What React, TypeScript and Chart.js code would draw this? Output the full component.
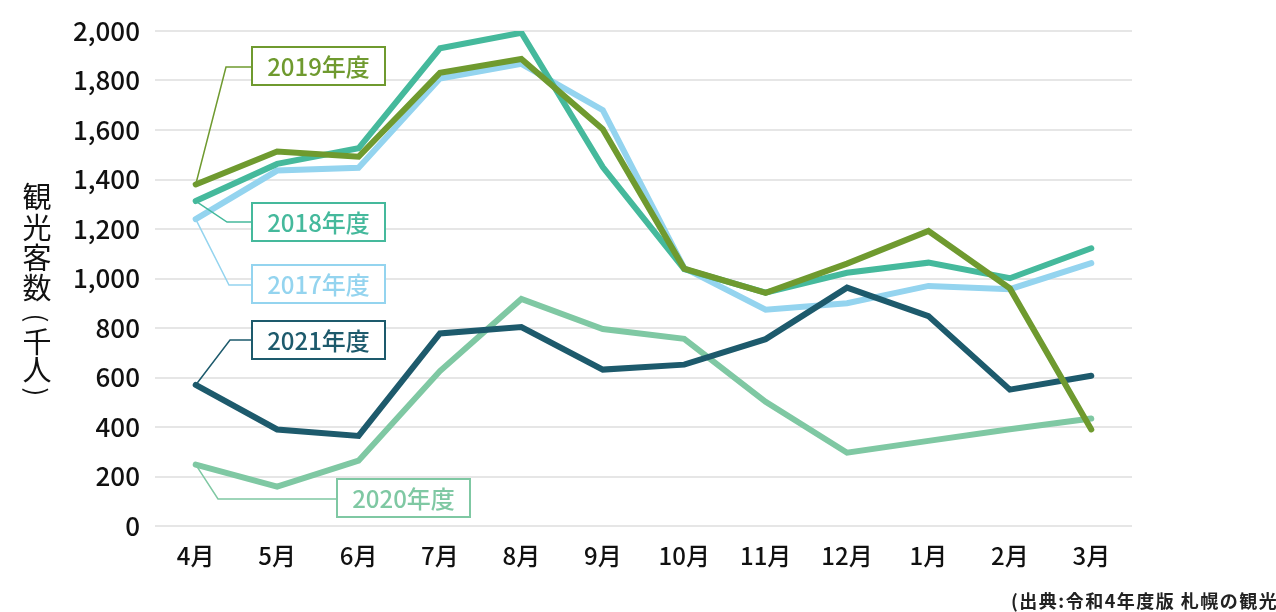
import React, { useEffect, useRef } from "react";
import { Chart, registerables } from "chart.js";

Chart.register(...registerables);

const months = ["4月", "5月", "6月", "7月", "8月", "9月", "10月", "11月", "12月", "1月", "2月", "3月"];
const fy2017 = [1240, 1436, 1447, 1808, 1867, 1680, 1042, 874, 900, 970, 957, 1062];
const fy2018 = [1313, 1463, 1526, 1930, 1993, 1450, 1038, 943, 1023, 1064, 1001, 1122];
const fy2019 = [1380, 1513, 1492, 1831, 1887, 1603, 1040, 942, 1060, 1192, 960, 390];
const fy2020 = [248, 159, 264, 626, 917, 796, 756, 502, 296, 344, 391, 434];
const fy2021 = [570, 390, 364, 778, 804, 632, 652, 755, 963, 848, 551, 607];
const seriesLabels = ["2019年度", "2021年度", "2020年度", "2018年度", "2017年度"];
const seriesColors = ["#6f9a2f", "#1d5a6c", "#7fc8a3", "#45b99c", "#94d4ef"];
const yTitleChars = ["観", "光", "客", "数", "(", "千", "人", ")"];
const sourceText = "(出典:令和4年度版 札幌の観光)";

// Callout boxes (dataset index -> box position in px, elbow position in px)
const callouts = [
  { ds: 0, boxX: 252, boxY: 47, elbowX: 226, elbowY: 67 },
  { ds: 3, boxX: 252, boxY: 203, elbowX: 227, elbowY: 222 },
  { ds: 4, boxX: 252, boxY: 265, elbowX: 229, elbowY: 285 },
  { ds: 1, boxX: 252, boxY: 321, elbowX: 230, elbowY: 340 },
  { ds: 2, boxX: 337, boxY: 479, elbowX: 218, elbowY: 499 },
];

const FONT = '"Noto Sans CJK JP", "Noto Sans", sans-serif';

const calloutPlugin = {
  id: "callouts",
  afterDatasetsDraw(chart: any) {
    const ctx = chart.ctx;
    ctx.save();
    callouts.forEach((c) => {
      const meta = chart.getDatasetMeta(c.ds);
      const pt = meta.data[0];
      const color = seriesColors[c.ds];
      const w = 133;
      const h = 38;
      ctx.strokeStyle = color;
      ctx.lineWidth = 1.5;
      ctx.beginPath();
      ctx.moveTo(pt.x, pt.y);
      ctx.lineTo(c.elbowX, c.elbowY);
      ctx.lineTo(c.boxX, c.elbowY);
      ctx.stroke();
      ctx.fillStyle = "#ffffff";
      ctx.fillRect(c.boxX, c.boxY, w, h);
      ctx.lineWidth = 2;
      ctx.strokeRect(c.boxX, c.boxY, w, h);
      ctx.fillStyle = color;
      ctx.font = `500 24px ${FONT}`;
      ctx.textAlign = "center";
      ctx.textBaseline = "middle";
      ctx.fillText(seriesLabels[c.ds], c.boxX + w / 2, c.boxY + h / 2 + 1);
    });
    ctx.restore();
  },
};

const textPlugin = {
  id: "extraText",
  afterDraw(chart: any) {
    const ctx = chart.ctx;
    ctx.save();
    ctx.fillStyle = "#111111";
    ctx.textAlign = "center";
    ctx.textBaseline = "middle";
    const ys = [197, 228, 258, 288, 318, 342, 370, 392];
    yTitleChars.forEach((ch, i) => {
      if (ch === "(" || ch === ")") {
        ctx.save();
        ctx.font = `400 26px ${FONT}`;
        ctx.translate(37, ys[i]);
        ctx.rotate(Math.PI / 2);
        ctx.fillText(ch, 0, 0);
        ctx.restore();
      } else {
        ctx.font = `400 29px ${FONT}`;
        ctx.fillText(ch, 37, ys[i]);
      }
    });
    ctx.font = `700 18px ${FONT}`;
    ctx.textAlign = "left";
    ctx.fillStyle = "#222222";
    (ctx as any).letterSpacing = "1.5px";
    ctx.fillText(sourceText, 1011, 601);
    (ctx as any).letterSpacing = "0px";
    ctx.restore();
  },
};

export default function App() {
  const ref = useRef<HTMLCanvasElement | null>(null);
  useEffect(() => {
    document.body.style.margin = "0";
    const canvas = ref.current;
    if (!canvas) return;
    const data = [fy2019, fy2021, fy2020, fy2018, fy2017];
    const chart = new Chart(canvas, {
      type: "line",
      data: {
        labels: months,
        datasets: data.map((d, i) => ({
          label: seriesLabels[i],
          data: d,
          borderColor: seriesColors[i],
          backgroundColor: seriesColors[i],
          borderWidth: 6,
          pointRadius: 0,
          tension: 0,
          borderCapStyle: "round",
          borderJoinStyle: "miter",
        })),
      },
      options: {
        responsive: false,
        animation: false,
        devicePixelRatio: 1,
        layout: { padding: { left: 0, right: 144, top: 31, bottom: 0 } },
        plugins: { legend: { display: false }, tooltip: { enabled: false } },
        scales: {
          x: {
            offset: true,
            grid: { display: false, drawTicks: false },
            border: { display: false },
            ticks: { color: "#111111", padding: 15, font: { family: FONT, size: 24, weight: "500" } },
            afterFit: (s: any) => {
              s.height = 86;
            },
          },
          y: {
            min: 0,
            max: 2000,
            ticks: {
              stepSize: 200,
              color: "#111111",
              padding: 15,
              font: { family: FONT, size: 26, weight: "500" },
            },
            grid: { color: "#e6e6e6", lineWidth: 2, drawTicks: false },
            border: { display: false },
            afterFit: (s: any) => {
              s.width = 155;
            },
          },
        },
      },
      plugins: [calloutPlugin, textPlugin],
    } as any);
    return () => chart.destroy();
  }, []);
  return <canvas ref={ref} width={1276} height={612} style={{ display: "block" }} />;
}
